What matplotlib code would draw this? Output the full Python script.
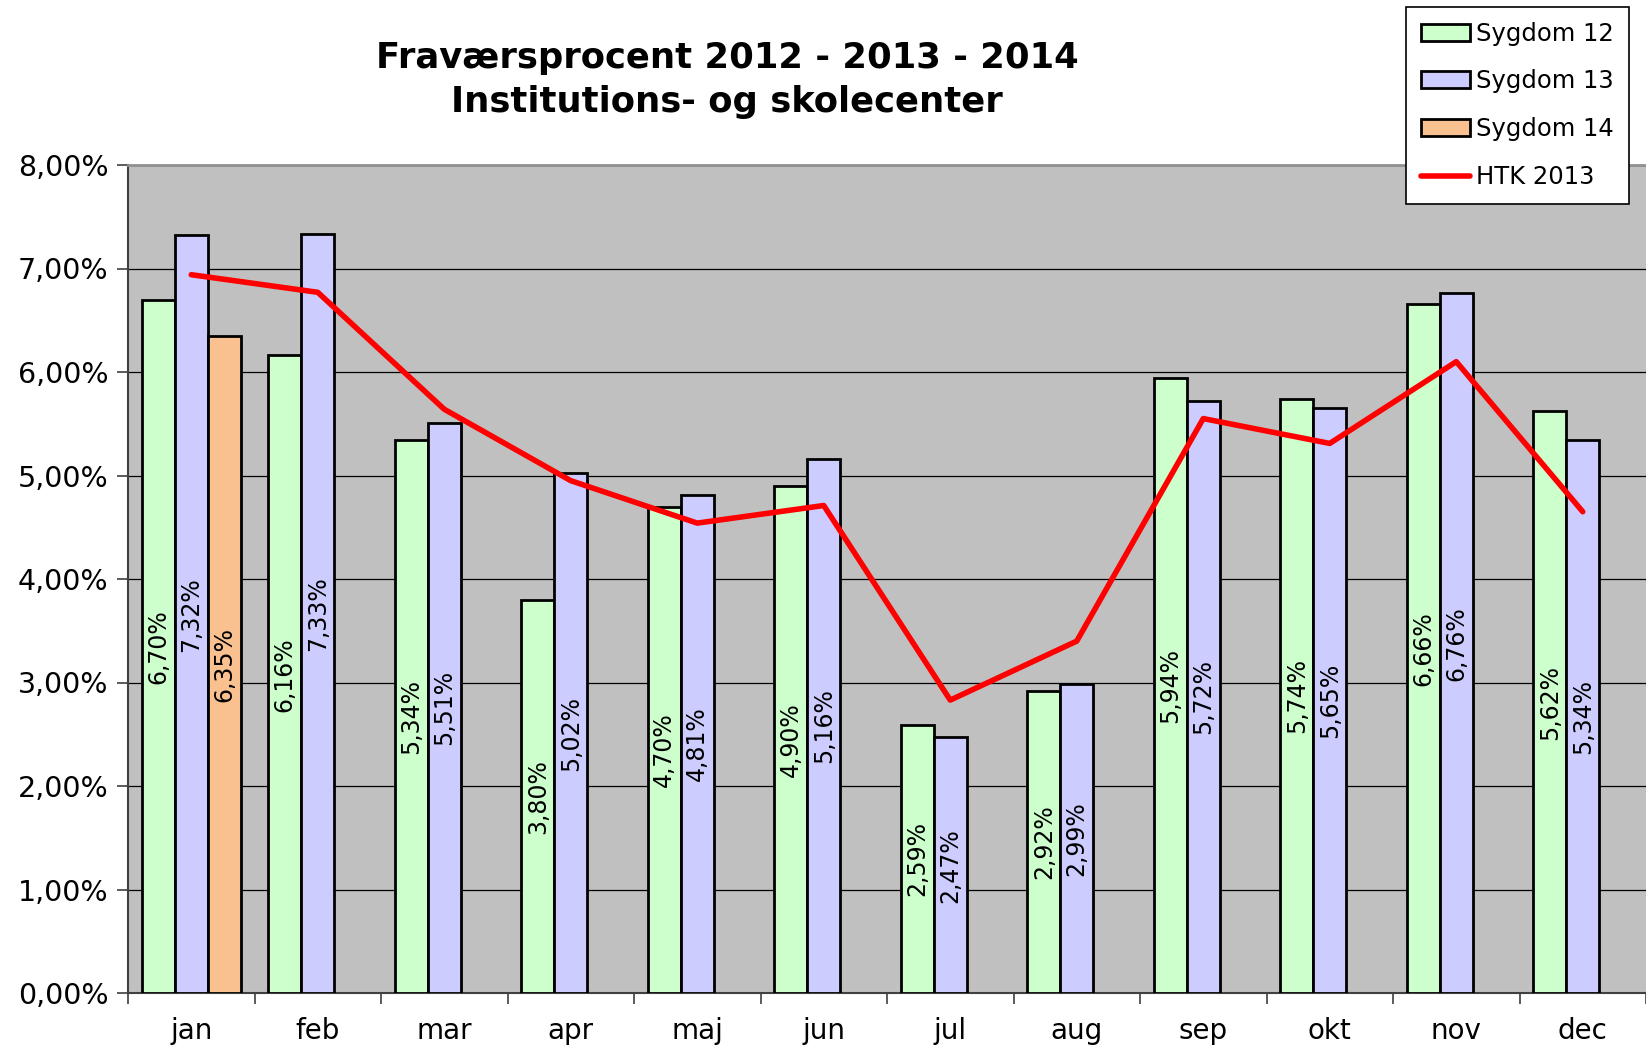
import numpy as np
import matplotlib
matplotlib.use("Agg")
import matplotlib.pyplot as plt
from matplotlib.ticker import FuncFormatter, FixedLocator

months = ["jan", "feb", "mar", "apr", "maj", "jun", "jul", "aug", "sep", "okt", "nov", "dec"]
sygdom12 = [6.70, 6.16, 5.34, 3.80, 4.70, 4.90, 2.59, 2.92, 5.94, 5.74, 6.66, 5.62]
sygdom13 = [7.32, 7.33, 5.51, 5.02, 4.81, 5.16, 2.47, 2.99, 5.72, 5.65, 6.76, 5.34]
sygdom14 = [6.35, None, None, None, None, None, None, None, None, None, None, None]
htk2013 = [6.94, 6.77, 5.64, 4.95, 4.54, 4.71, 2.83, 3.40, 5.55, 5.31, 6.10, 4.65]

plt.rcParams['font.family'] = ['DejaVu Sans']

W, H = 1646, 1046
fig = plt.figure(figsize=(W / 100, H / 100), dpi=100)
ax = fig.add_axes([128 / W, (H - 993) / H, (W - 128) / W, (993 - 165) / H])
ax.set_facecolor('#C0C0C0')

x = np.arange(len(months)) + 0.5
bw = 0.26
series = [(sygdom12, '#CCFFCC', 'Sygdom 12'),
          (sygdom13, '#CCCCFF', 'Sygdom 13'),
          (sygdom14, '#F9C190', 'Sygdom 14')]
handles = []
for k, (vals, col, name) in enumerate(series):
    xs = [xi + (k - 1) * bw for xi, v in zip(x, vals) if v is not None]
    vs = [v for v in vals if v is not None]
    b = ax.bar(xs, vs, width=bw, color=col, edgecolor='black', linewidth=2, label=name, zorder=3)
    handles.append(b)
    for xi, v in zip(xs, vs):
        ax.text(xi, v / 2, ('%.2f%%' % v).replace('.', ','), rotation=90,
                ha='center', va='center', fontsize=17, zorder=4)

ln, = ax.plot(x, htk2013, color='#FF0000', linewidth=4, label='HTK 2013', zorder=5,
              solid_capstyle='round')
handles.append(ln)

ax.set_xlim(0, 12)
ax.set_ylim(0, 8)
ax.yaxis.set_major_locator(FixedLocator(np.arange(0, 9)))
ax.yaxis.set_major_formatter(FuncFormatter(lambda v, p: ('%.2f%%' % v).replace('.', ',')))
ax.grid(axis='y', color='black', linewidth=0.9, zorder=1)
ax.set_xticks(np.arange(0, 13))
ax.set_xticklabels([])
ax.set_xticks(x, minor=True)
ax.set_xticklabels(months, minor=True)
ax.tick_params(axis='x', which='major', length=8, width=1.2, color='#404040', direction='out')
ax.tick_params(axis='x', which='minor', length=0, labelsize=20, pad=17)
ax.tick_params(axis='y', length=8, width=1.2, color='#404040', labelsize=20.5, pad=6)

ax.spines['right'].set_visible(False)
ax.spines['top'].set_color('#909090')
ax.spines['top'].set_linewidth(2)
ax.spines['left'].set_color('#404040')
ax.spines['left'].set_linewidth(1.5)
ax.spines['bottom'].set_color('#404040')
ax.spines['bottom'].set_linewidth(1.5)

fig.text(727 / W, 1 - 58 / H, 'Fraværsprocent 2012 - 2013 - 2014', ha='center', va='center',
         fontsize=25.5, fontweight='bold')
fig.text(727 / W, 1 - 102 / H, 'Institutions- og skolecenter', ha='center', va='center',
         fontsize=25.5, fontweight='bold')

leg = fig.legend(handles=handles, loc='upper left', bbox_to_anchor=(1406 / W, 1 - 7 / H),
                 fontsize=17.5, frameon=True, fancybox=False, edgecolor='black', framealpha=1,
                 handlelength=2.05, handleheight=0.7, labelspacing=0.98, borderpad=0.6,
                 handletextpad=0.25, borderaxespad=0)
leg.get_frame().set_linewidth(1.2)

fig.savefig('out.png', dpi=100, facecolor='white')
